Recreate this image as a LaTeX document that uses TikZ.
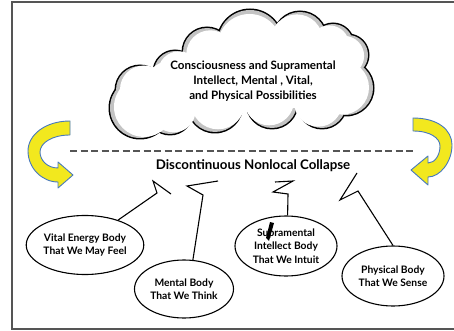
\documentclass[tikz,border=0pt]{standalone}
\usepackage{fontspec}
\setmainfont{Lato}
\usetikzlibrary{shapes.geometric}
\definecolor{arrowfill}{RGB}{242,232,30}
\definecolor{arrowedge}{RGB}{70,120,190}
\definecolor{framegray}{RGB}{85,85,85}
\definecolor{cloudshade}{RGB}{195,195,195}
\begin{document}
\begin{tikzpicture}[x=1pt,y=-1pt,
  body/.style={ellipse,draw,line width=1.1pt,inner sep=0pt,align=center,
    font=\bfseries\fontsize{10.3}{13.5}\selectfont},
  bolt/.style={line width=1.1pt,line join=miter},
  curlarrow/.style={fill=arrowfill,draw=arrowedge,line width=0.9pt,line join=round},
  dashline/.style={draw=framegray,line width=1.3pt,dash pattern=on 7pt off 3.5pt},
]
\useasboundingbox (0,0) rectangle (454,331);

% outer frame (open on the right)
\draw[framegray,line width=1.1pt] (454,2) -- (12,2) -- (12,329) -- (454,329);

% cloud: outline, shaded rim, white body
\def\puffs{140/108/30/4/-1.1, 140/90/24/4/-0.5, 175/72/21/4/0.3, 207/52/24/3.3/2.3,
  250/42/32/-0.5/4, 300/38/26/-3.2/2.4, 333/44/20/-3.7/1.4, 348/55/20/-3.9/0.9,
  346/88/27/-4/-0.4, 322/104/24/-3.8/-1.3, 272/103/25/-2.9/-2.7, 215/105/27/3/-2.7,
  170/112/22/3.6/-1.6}
\foreach \cx/\cy/\r/\dx/\dy in \puffs
  \fill[black] (\cx,\cy) circle[radius=\r+1.5];
\foreach \cx/\cy/\r/\dx/\dy in \puffs
  \fill[cloudshade] (\cx,\cy) circle[radius=\r];
\foreach \cx/\cy/\r/\dx/\dy in \puffs
  \fill[white] (\cx+\dx,\cy+\dy) circle[radius=\r];
\fill[white] (245,80) ellipse[x radius=100,y radius=32];

\node[align=center,font=\bfseries\fontsize{11.6}{15}\selectfont] (possible) at (253,81)
  {Consciousness and Supramental\\Intellect, Mental , Vital,\\and Physical Possibilities};

% curved arrows on both sides
\draw[curlarrow] (70,121) .. controls (45,121) and (28,135) .. (28,151)
  .. controls (28,168) and (42,182) .. (58,182) -- (58,188) -- (73,175) -- (58,162)
  -- (58,168) .. controls (47,168) and (40,160) .. (40,152)
  .. controls (40,143) and (52,135) .. (70,135) -- cycle;
\draw[curlarrow] (413,118) .. controls (438,118) and (452,130) .. (452,145)
  .. controls (452,162) and (440,177) .. (428,177) -- (428,185) -- (411,170) -- (428,156)
  -- (428,163) .. controls (435,163) and (440,155) .. (440,146)
  .. controls (440,138) and (430,131) .. (413,131) -- cycle;

% dashed divider
\coordinate (dl) at (70,151);
\coordinate (dr) at (413,151);
\draw[dashline] (dl) -- (dr);

\node[font=\bfseries\fontsize{13.3}{16}\selectfont] (collapse) at (253,166)
  {Discontinuous Nonlocal Collapse};

% the four bodies
\node[body,minimum width=104pt,minimum height=59pt] (vital) at (85,245)
  {Vital Energy Body\\That We May Feel};
\node[body,minimum width=99pt,minimum height=58pt] (mental) at (184,289)
  {Mental Body\\That We Think};
\node[body,minimum width=102pt,minimum height=60pt] (supra) at (286,246)
  {Supramental\\Intellect Body\\That We Intuit};
\node[body,minimum width=102pt,minimum height=60pt] (physical) at (393,276)
  {Physical Body\\That We Sense};

% lightning strokes
\coordinate (b1a) at (157,193);
\coordinate (b1b) at (153,181);
\coordinate (b1c) at (171,194);
\draw[bolt] (vital.37) -- (b1a) -- (b1b) -- (b1c);

\coordinate (b2a) at (218,181);
\coordinate (b2b) at (187,186);
\coordinate (b2c) at (203,195);
\draw[bolt] (mental.73) -- (b2c) -- (b2b) -- (b2a);

\coordinate (b3a) at (275,182);
\coordinate (b3b) at (293,181);
\coordinate (b3c) at (273,192);
\coordinate (b3d) at (288,194);
\draw[bolt] (supra.87) -- (b3d) -- (b3c) -- (b3b) -- (b3a);

\coordinate (b4a) at (357,173);
\coordinate (b4b) at (340,200);
\coordinate (b4c) at (358,191);
\draw[bolt] (physical.north) -- (b4c) -- (b4b) -- (b4a);

% small ink mark across the first word of the intuit body
\fill (270,222) -- (274,223) -- (269,241) -- (266,238) -- cycle;
\end{tikzpicture}
\end{document}
